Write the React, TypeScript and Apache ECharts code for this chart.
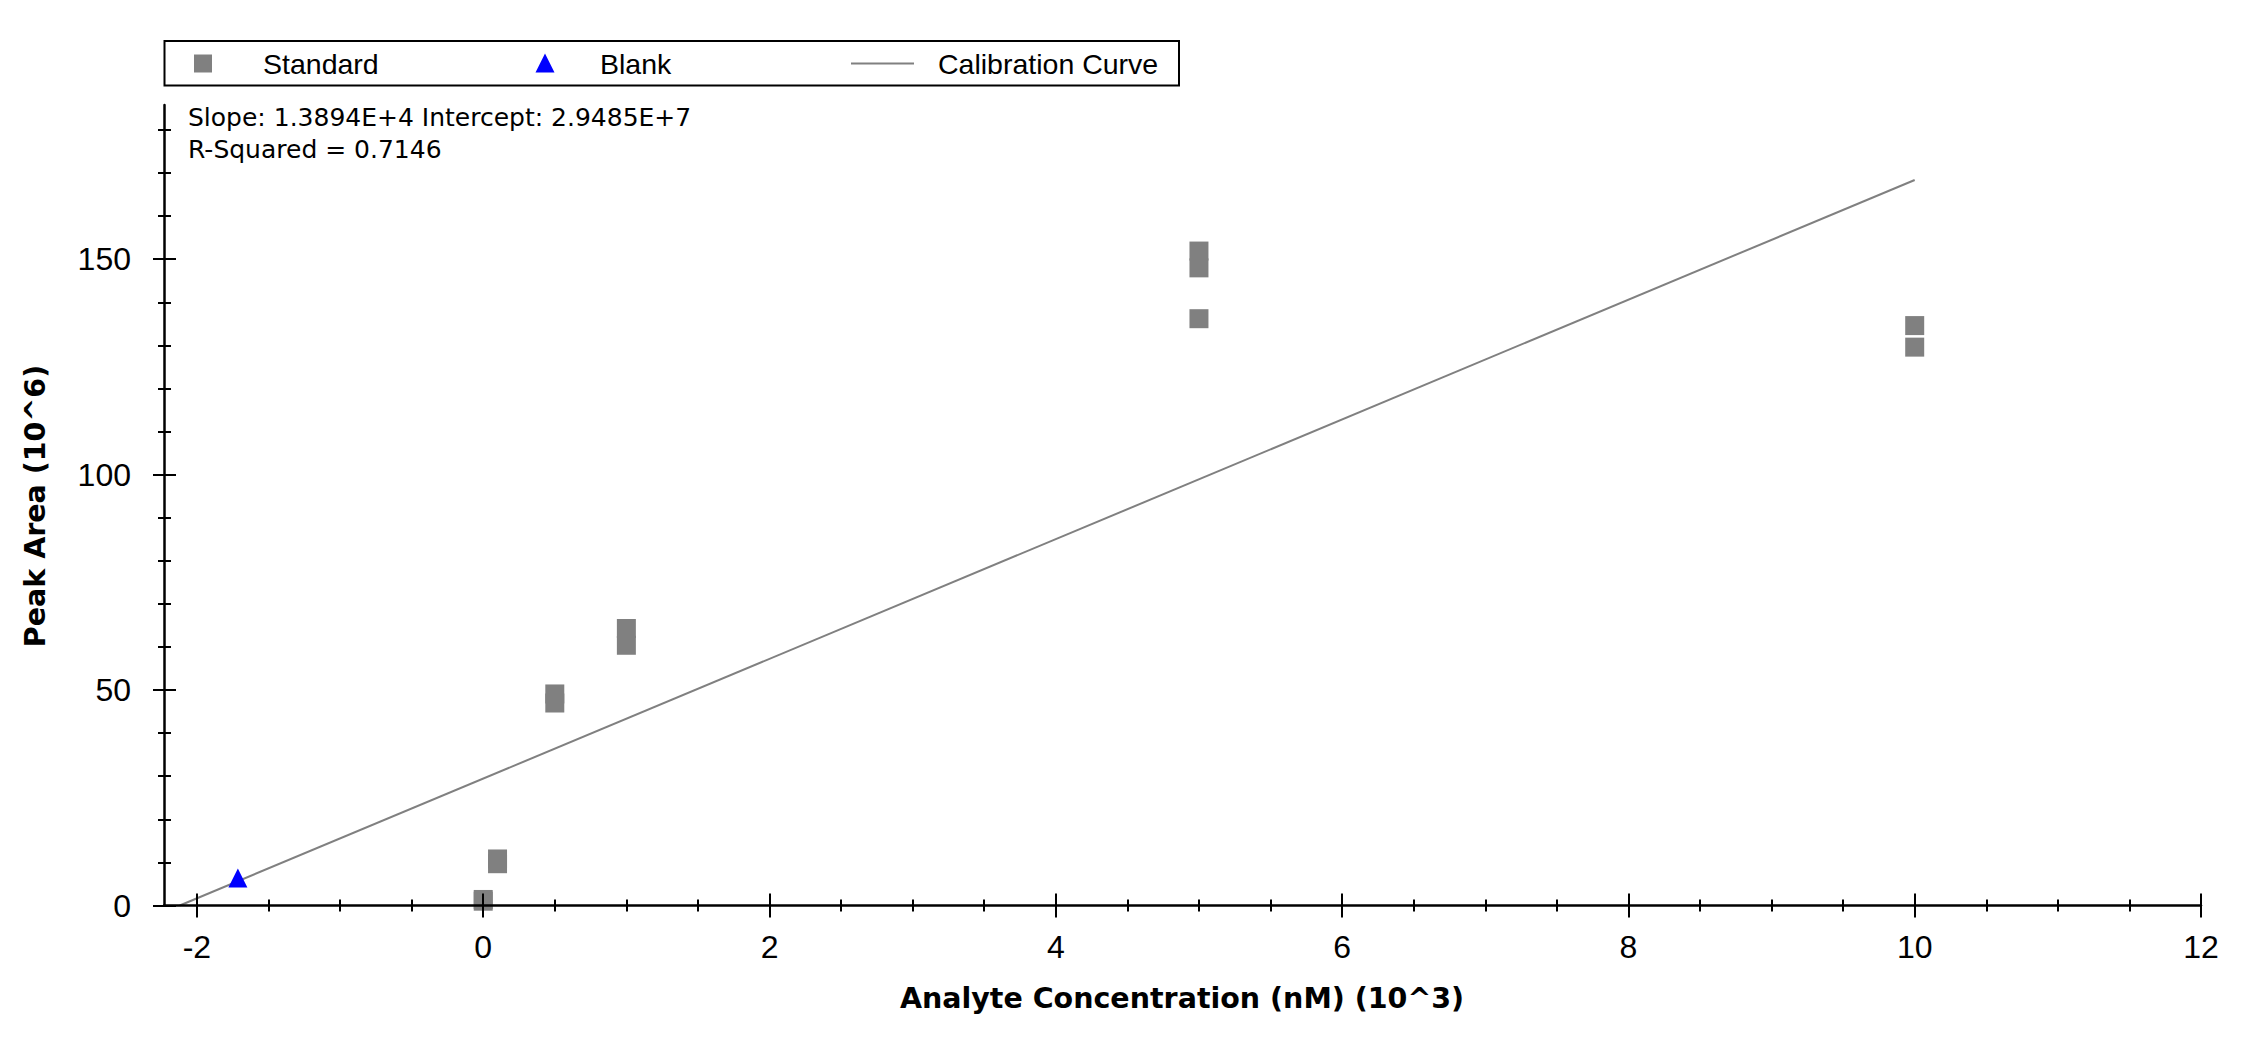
import React, { useEffect, useRef } from "react";
import * as echarts from "echarts";

// ---- data ----
const stdConc = [0, 0, 0.1, 0.1, 0.5, 0.5, 1, 1, 5, 5, 5, 10, 10];
const stdArea = [1.0, 1.4, 9.7, 10.8, 47.0, 49.1, 60.4, 64.3, 136.2, 148.0, 151.9, 129.6, 134.6];
const blankConc = [-1.714];
const blankArea = [6.4];
const curveConc = [-2.12, 10];
const curveArea = [0, 168.4];

const xMajorTicks = [-2, 0, 2, 4, 6, 8, 10, 12];
const xMinorTicks = [-1.5, -1, -0.5, 0.5, 1, 1.5, 2.5, 3, 3.5, 4.5, 5, 5.5, 6.5, 7, 7.5, 8.5, 9, 9.5, 10.5, 11, 11.5];
const yMajorTicks = [0, 50, 100, 150];
const yMinorTicks = [10, 20, 30, 40, 60, 70, 80, 90, 110, 120, 130, 140, 160, 170, 180];

const legendNames = ["Standard", "Blank", "Calibration Curve"];
const statLines = ["Slope: 1.3894E+4 Intercept: 2.9485E+7", "R-Squared = 0.7146"];
const xTitle = "Analyte Concentration (nM) (10^3)";
const yTitle = "Peak Area (10^6)";

const X_MIN = -2.23;
const X_MAX = 12;
const Y_MIN = 0;
const Y_MAX = 185.8;

const GREY = "#808080";
const LABEL_FONT = "'Liberation Sans', Arial, sans-serif";
const STAT_FONT = "'DejaVu Sans', Verdana, sans-serif";

function zip(a: number[], b: number[]) {
  return a.map((v, i) => [v, b[i]]);
}

function xAxisLayer(values: number[], len: number, inside: boolean, main: boolean) {
  return {
    type: "value",
    gridIndex: 0,
    position: "bottom",
    min: X_MIN,
    max: X_MAX,
    z: 5,
    axisLine: { show: main, onZero: false, lineStyle: { color: "#000", width: 2.5 } },
    axisTick: { show: true, customValues: values, inside, length: len, lineStyle: { color: "#000", width: 2 } },
    axisLabel: main
      ? {
          show: true,
          customValues: xMajorTicks,
          margin: 25,
          color: "#000",
          fontFamily: LABEL_FONT,
          fontSize: 32,
          formatter: (v: number) => String(v),
        }
      : { show: false },
    splitLine: { show: false },
    minorTick: { show: false },
  };
}

function yAxisLayer(values: number[], len: number, inside: boolean, main: boolean) {
  return {
    type: "value",
    gridIndex: 0,
    position: "left",
    min: Y_MIN,
    max: Y_MAX,
    z: 5,
    axisLine: { show: main, onZero: false, lineStyle: { color: "#000", width: 2.5 } },
    axisTick: { show: true, customValues: values, inside, length: len, lineStyle: { color: "#000", width: 2 } },
    axisLabel: main
      ? {
          show: true,
          customValues: yMajorTicks,
          margin: 33,
          color: "#000",
          fontFamily: LABEL_FONT,
          fontSize: 32,
          formatter: (v: number) => String(v),
        }
      : { show: false },
    splitLine: { show: false },
    minorTick: { show: false },
  };
}

export default function App() {
  const ref = useRef<HTMLDivElement>(null);

  useEffect(() => {
    if (!ref.current) return;
    const chart = echarts.init(ref.current, undefined, { renderer: "svg" });

    const option: any = {
      animation: false,
      backgroundColor: "#ffffff",
      textStyle: { fontFamily: LABEL_FONT },
      grid: {
        left: 164,
        right: 40,
        top: 105,
        bottom: 137.5,
        containLabel: false,
        outerBoundsMode: "none",
      },
      xAxis: [
        xAxisLayer(xMajorTicks, 12, false, true),
        xAxisLayer(xMajorTicks, 12, true, false),
        xAxisLayer(xMinorTicks, 6, false, false),
        xAxisLayer(xMinorTicks, 6, true, false),
      ],
      yAxis: [
        yAxisLayer(yMajorTicks, 11, false, true),
        yAxisLayer(yMajorTicks, 12, true, false),
        yAxisLayer(yMinorTicks, 6, false, false),
        yAxisLayer(yMinorTicks, 7, true, false),
      ],
      series: [
        {
          name: legendNames[2],
          type: "line",
          xAxisIndex: 0,
          yAxisIndex: 0,
          data: zip(curveConc, curveArea),
          showSymbol: false,
          symbol: "none",
          lineStyle: { color: GREY, width: 2 },
          z: 2,
        },
        {
          name: legendNames[0],
          type: "scatter",
          xAxisIndex: 0,
          yAxisIndex: 0,
          data: zip(stdConc, stdArea),
          symbol: "rect",
          symbolSize: [19, 19],
          itemStyle: { color: GREY, opacity: 1 },
          z: 3,
        },
        {
          name: legendNames[1],
          type: "scatter",
          xAxisIndex: 0,
          yAxisIndex: 0,
          data: zip(blankConc, blankArea),
          symbol: "triangle",
          symbolSize: [19, 19],
          itemStyle: { color: "#0000ff", opacity: 1 },
          z: 4,
        },
      ],
      graphic: [
        // legend box
        {
          type: "rect",
          shape: { x: 164.5, y: 41, width: 1014.5, height: 44.5 },
          style: { fill: "#ffffff", stroke: "#000000", lineWidth: 2 },
        },
        {
          type: "rect",
          shape: { x: 194, y: 54.5, width: 18, height: 18 },
          style: { fill: GREY },
        },
        {
          type: "text",
          x: 263,
          y: 64,
          style: { text: legendNames[0], fill: "#000", font: `28.5px ${LABEL_FONT}`, align: "left", verticalAlign: "middle" },
        },
        {
          type: "polygon",
          shape: { points: [[545, 53.5], [554.5, 72.5], [535.5, 72.5]] },
          style: { fill: "#0000ff" },
        },
        {
          type: "text",
          x: 600,
          y: 64,
          style: { text: legendNames[1], fill: "#000", font: `28.5px ${LABEL_FONT}`, align: "left", verticalAlign: "middle" },
        },
        {
          type: "line",
          shape: { x1: 851, y1: 63.5, x2: 914, y2: 63.5 },
          style: { stroke: GREY, lineWidth: 2 },
        },
        {
          type: "text",
          x: 938,
          y: 64,
          style: { text: legendNames[2], fill: "#000", font: `28.5px ${LABEL_FONT}`, align: "left", verticalAlign: "middle" },
        },
        // regression stats
        {
          type: "text",
          x: 188,
          y: 117,
          style: { text: statLines[0], fill: "#000", font: `25px ${STAT_FONT}`, align: "left", verticalAlign: "middle" },
        },
        {
          type: "text",
          x: 188,
          y: 149.5,
          style: { text: statLines[1], fill: "#000", font: `25px ${STAT_FONT}`, align: "left", verticalAlign: "middle" },
        },
        // axis titles
        {
          type: "text",
          x: 1182,
          y: 998.5,
          style: { text: xTitle, fill: "#000", font: `bold 28.5px ${STAT_FONT}`, align: "center", verticalAlign: "middle" },
        },
        {
          type: "text",
          x: 35,
          y: 506,
          rotation: Math.PI / 2,
          style: { text: yTitle, fill: "#000", font: `bold 28.5px ${STAT_FONT}`, align: "center", verticalAlign: "middle" },
        },
      ],
    };

    chart.setOption(option);
    return () => chart.dispose();
  }, []);

  return (
    <div
      ref={ref}
      style={{ position: "fixed", left: 0, top: 0, width: "2241px", height: "1043px", background: "#fff" }}
    />
  );
}
